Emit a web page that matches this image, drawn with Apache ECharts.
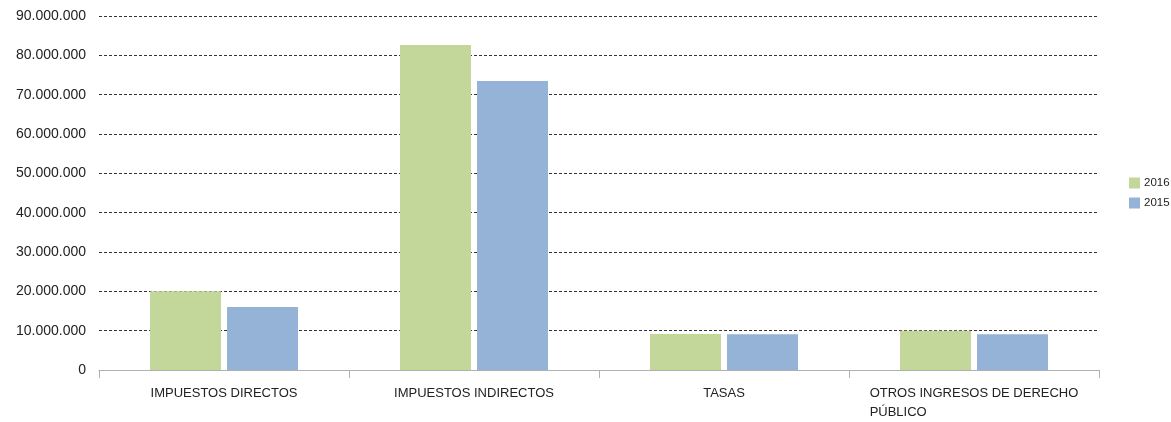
<!DOCTYPE html>
<html>
<head>
<meta charset="utf-8">
<script src="https://cdn.jsdelivr.net/npm/echarts@6/dist/echarts.min.js"></script>
<style>html,body{margin:0;padding:0;background:#fff;}#c{width:1171px;height:422px;}</style>
</head>
<body>
<div id="c"></div>
<script>
var categories = ['IMPUESTOS DIRECTOS', 'IMPUESTOS INDIRECTOS', 'TASAS', 'OTROS INGRESOS DE DERECHO\nPÚBLICO'];
var seriesNames = ['2016', '2015'];
var values2016 = [20000000, 82600000, 9150000, 10000000];
var values2015 = [16000000, 73500000, 9100000, 9100000];
var yTicks = { min: 0, max: 90000000, interval: 10000000 };

function fmt(v) {
  return String(Math.round(v)).replace(/\B(?=(\d{3})+(?!\d))/g, '.');
}

var chart = echarts.init(document.getElementById('c'));
chart.setOption({
  animation: false,
  textStyle: { fontFamily: 'Liberation Sans, Arial, sans-serif' },
  grid: { left: 99, right: 72, top: 16, bottom: 52, containLabel: false },
  legend: {
    orient: 'vertical',
    left: 1129,
    top: 177,
    padding: 0,
    itemWidth: 11,
    itemHeight: 11,
    itemGap: 8,
    icon: 'rect',
    textStyle: { fontSize: 11.5, color: '#222', padding: [0, 0, 0, -1] },
    data: seriesNames
  },
  xAxis: {
    type: 'category',
    data: categories,
    axisLine: { lineStyle: { color: '#b0b0b0', width: 1 } },
    axisTick: { show: true, length: 8, interval: 0, lineStyle: { color: '#b0b0b0' } },
    axisLabel: {
      interval: 0,
      margin: 14,
      fontSize: 13,
      color: '#222',
      lineHeight: 19,
      formatter: function (v) {
        return v.split('\n').map(function (s) { return '{a|' + s + '}'; }).join('\n');
      },
      rich: { a: { align: 'left', fontSize: 13, color: '#222', lineHeight: 19 } }
    }
  },
  yAxis: {
    type: 'value',
    min: yTicks.min,
    max: yTicks.max,
    interval: yTicks.interval,
    axisLine: { show: false },
    axisTick: { show: false },
    axisLabel: { fontSize: 14, color: '#222', margin: 13, formatter: fmt },
    splitLine: { lineStyle: { color: '#333', type: [3, 2], width: 1 } }
  },
  series: [
    { name: seriesNames[0], type: 'bar', data: values2016, barWidth: 71, barGap: '8.5%', itemStyle: { color: '#C4D79B' } },
    { name: seriesNames[1], type: 'bar', data: values2015, barWidth: 71, barGap: '8.5%', itemStyle: { color: '#95B3D7' } }
  ]
});
</script>
</body>
</html>
